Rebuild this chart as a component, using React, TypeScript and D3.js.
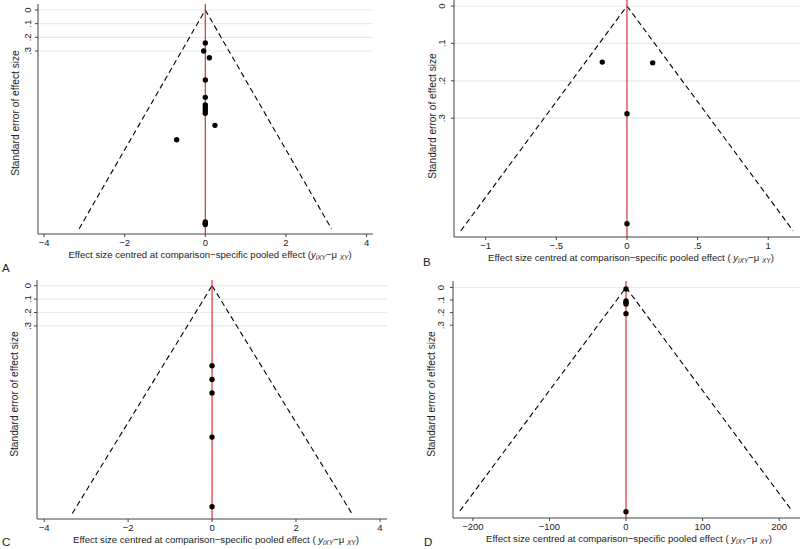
import React from "react";
import * as d3 from "d3";

// ---------- data ----------
const panelLetters = ["A", "B", "C", "D"];

const aEffect = [0, -0.04, 0.1, 0, 0, 0, 0, 0, 0, 0.24, -0.71, 0, 0, 0];
const aSE = [0.241, 0.30, 0.349, 0.512, 0.639, 0.695, 0.715, 0.735, 0.755, 0.844, 0.949, 1.55, 1.56, 1.57];

const bEffect = [-0.175, 0.182, 0, 0];
const bSE = [0.15, 0.152, 0.288, 0.582];

const cEffect = [0, 0, 0, 0, 0];
const cSE = [0.597, 0.70, 0.80, 1.13, 1.65];

const dEffect = [0, 0, 0, 0, 0, 0];
const dSE = [0.012, 0.107, 0.12, 0.131, 0.208, 1.784];

const aXTicks = [-4, -2, 0, 2, 4];
const bXTicks = [-1, -0.5, 0, 0.5, 1];
const cXTicks = [-4, -2, 0, 2, 4];
const dXTicks = [-200, -100, 0, 100, 200];

const yTicks = [0, 0.1, 0.2, 0.3];
const dGridTicks = [0];

// funnel limits: [max SE, half width at max SE]
const aFunnel = [1.6, 3.13];
const bFunnel = [0.601, 1.176];
const cFunnel = [1.70, 3.33];
const dFunnel = [1.778, 217];

const yTitle = "Standard error of effect size";
const xTitle = "Effect size centred at comparison\u2212specific pooled effect (";

// ---------- layout ----------
const panels = [
  { letter: panelLetters[0], eff: aEffect, se: aSE, xTicks: aXTicks, grid: yTicks, funnel: aFunnel,
    left: 38, right: 373, top: 4, bottom: 234, xDom: [-4.15, 4.16], yZero: 10, yPerUnit: 136.7,
    ytx: 28, ytitleX: 15, ytitleY: 113, xtitleX: 210, space: false, letterX: 2, letterY: 272, gridRight: 373 },
  { letter: panelLetters[1], eff: bEffect, se: bSE, xTicks: bXTicks, grid: yTicks, funnel: bFunnel,
    left: 454, right: 800, top: 0, bottom: 237, xDom: [-1.2246, 1.225], yZero: 6, yPerUnit: 374,
    ytx: 442, ytitleX: 432, ytitleY: 116, xtitleX: 631, space: true, letterX: 423, letterY: 266, gridRight: 800 },
  { letter: panelLetters[2], eff: cEffect, se: cSE, xTicks: cXTicks, grid: yTicks, funnel: cFunnel,
    left: 37, right: 387, top: 280, bottom: 519, xDom: [-4.17, 4.167], yZero: 285.7, yPerUnit: 134,
    ytx: 28, ytitleX: 14, ytitleY: 394, xtitleX: 216, space: true, letterX: 2, letterY: 546, gridRight: 387 },
  { letter: panelLetters[3], eff: dEffect, se: dSE, xTicks: dXTicks, grid: dGridTicks, funnel: dFunnel,
    left: 453, right: 800, top: 281, bottom: 518, xDom: [-226, 227.3], yZero: 287.5, yPerUnit: 125.7,
    ytx: 441, ytitleX: 431, ytitleY: 394, xtitleX: 629, space: true, letterX: 424, letterY: 546, gridRight: 800 },
];

const FONT = "'Liberation Sans', Arial, Helvetica, sans-serif";

function fmtTick(v: number) {
  if (v === 0) return "0";
  const s = Math.abs(v) < 1 ? String(Math.abs(v)).replace(/^0/, "") : String(Math.abs(v));
  return (v < 0 ? "\u2212" : "") + s;
}

function Panel({ p }: { p: any }) {
  const x = d3.scaleLinear().domain(p.xDom).range([p.left, p.right]);
  const yTop = (p.top - p.yZero) / p.yPerUnit;
  const yBot = (p.bottom - p.yZero) / p.yPerUnit;
  const y = d3.scaleLinear().domain([yTop, yBot]).range([p.top, p.bottom]);
  const [seMax, hw] = p.funnel;
  const line = d3.line<[number, number]>().x((d) => x(d[0])).y((d) => y(d[1]));
  return (
    <g>
      {p.grid.map((t: number) => (
        <line key={"g" + t} x1={p.left} x2={p.gridRight} y1={y(t)} y2={y(t)} stroke="#e2ebee" strokeWidth={1.2} />
      ))}
      <path d={line([[-hw, seMax], [0, 0]]) || ""} fill="none" stroke="#000" strokeWidth={1.1} strokeDasharray="5.5,3.5" />
      <path d={line([[0, 0], [hw, seMax]]) || ""} fill="none" stroke="#000" strokeWidth={1.1} strokeDasharray="5.5,3.5" />
      <line x1={x(0)} x2={x(0)} y1={p.top} y2={p.bottom} stroke="#d8322c" strokeWidth={1.2} />
      {p.eff.map((e: number, i: number) => (
        <circle key={"c" + i} cx={x(e)} cy={y(p.se[i])} r={2.7} fill="#000" />
      ))}
      {/* axes */}
      <line x1={p.left} x2={p.left} y1={p.top} y2={p.bottom} stroke="#444" strokeWidth={1} />
      <line x1={p.left} x2={p.right} y1={p.bottom} y2={p.bottom} stroke="#444" strokeWidth={1} />
      {yTicks.map((t) => (
        <g key={"yt" + t}>
          <line x1={p.left - 3} x2={p.left} y1={y(t)} y2={y(t)} stroke="#444" />
          <text transform={`translate(${p.ytx},${y(t)}) rotate(-90)`} textAnchor="middle" dy="0.35em"
            fontSize={9.5} fontFamily={FONT} fill="#222">{fmtTick(t)}</text>
        </g>
      ))}
      {p.xTicks.map((t: number) => (
        <g key={"xt" + t}>
          <line x1={x(t)} x2={x(t)} y1={p.bottom} y2={p.bottom + 3} stroke="#444" />
          <text x={x(t)} y={p.bottom + 12} textAnchor="middle" fontSize={9.5} fontFamily={FONT} fill="#222">{fmtTick(t)}</text>
        </g>
      ))}
      <text transform={`translate(${p.ytitleX},${p.ytitleY}) rotate(-90)`} textAnchor="middle" dy="0.35em"
        fontSize={10.2} fontFamily={FONT} fill="#222">{yTitle}</text>
      <text x={p.xtitleX} y={p.bottom + 24} textAnchor="middle" fontSize={9.6} fontFamily={FONT} fill="#222">
        {xTitle}{p.space ? " " : ""}
        <tspan fontStyle="italic">y</tspan>
        <tspan fontSize={6.5} dy={1.5} fontStyle="italic">iXY</tspan>
        <tspan dy={-1.5}>{"\u2212\u03bc "}</tspan>
        <tspan fontSize={6.5} dy={1.5} fontStyle="italic">XY</tspan>
        <tspan dy={-1.5}>)</tspan>
      </text>
      <text x={p.letterX} y={p.letterY} fontSize={11.5} fontFamily={FONT} fill="#222">{p.letter}</text>
    </g>
  );
}

export default function App() {
  return (
    <svg width={800} height={549} style={{ position: "absolute", left: 0, top: 0, background: "#fff" }}>
      <rect width={800} height={549} fill="#fff" />
      {panels.map((p) => (
        <Panel key={p.letter} p={p} />
      ))}
    </svg>
  );
}
